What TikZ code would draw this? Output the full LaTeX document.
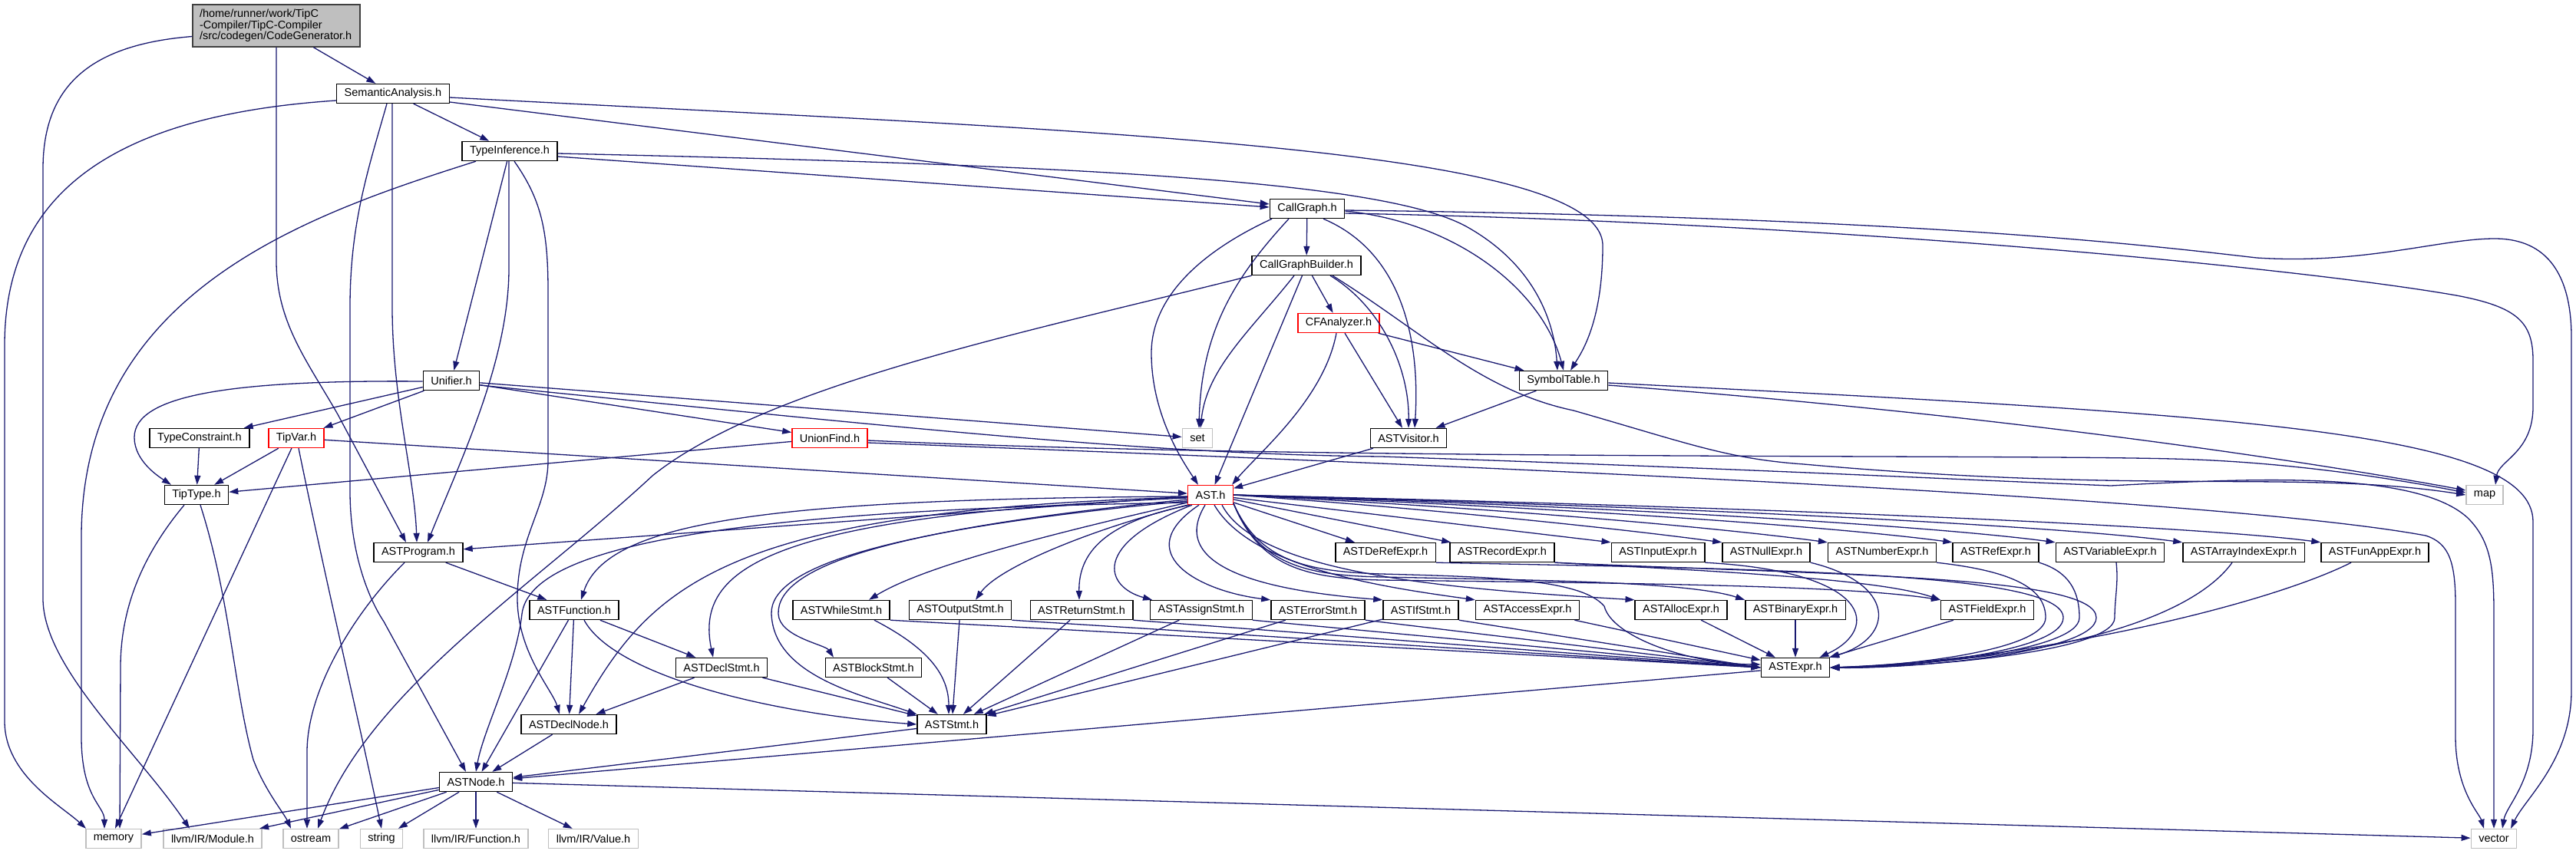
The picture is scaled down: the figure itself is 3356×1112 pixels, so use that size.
\documentclass[tikz,border=0pt]{standalone}
\usepackage{fontspec}
\setmainfont{Liberation Sans}
\usepackage{xcolor}
\usepackage{tikz}
\usetikzlibrary{arrows.meta}
\definecolor{navy}{HTML}{191970}
\definecolor{sysgray}{HTML}{BFBFBF}
\definecolor{rootline}{HTML}{404040}

\begin{document}
\begin{tikzpicture}[x=1pt,y=-1pt,>={Triangle[length=12pt,width=8pt]},
 hdr/.style={draw,line width=1.4pt,fill=white,minimum height=25pt,inner xsep=10pt,inner ysep=2pt,font=\fontsize{14.5}{17}\selectfont},
 hdrred/.style={hdr,draw=red},
 syshdr/.style={hdr,draw=sysgray},
 inc/.style={draw=navy,line width=1.3pt,->}]
 \useasboundingbox (0,0) rectangle (3356,1112);

 \node[hdr,fill=sysgray,draw=rootline,align=left,text width=200pt,inner xsep=9pt,minimum height=55pt,font=\fontsize{14.5}{14.6}\selectfont] (root) at (360,33.5) {/home/runner/work/TipC\\-Compiler/TipC-Compiler\\/src/codegen/CodeGenerator.h};
 \node[hdr] (sem) at (512,122) {SemanticAnalysis.h};
 \node[hdr] (tinf) at (664,197) {TypeInference.h};
 \node[hdr] (cg) at (1703,272) {CallGraph.h};
 \node[hdr] (cgb) at (1702,346) {CallGraphBuilder.h};
 \node[hdrred] (cfa) at (1744,421) {CFAnalyzer.h};
 \node[hdr] (unif) at (588,496) {Unifier.h};
 \node[hdr] (symt) at (2037,496) {SymbolTable.h};
 \node[hdr] (tcons) at (260,571) {TypeConstraint.h};
 \node[hdrred] (tvar) at (386,571) {TipVar.h};
 \node[hdrred] (ufind) at (1081,571) {UnionFind.h};
 \node[syshdr] (set) at (1560,571) {set};
 \node[hdr] (vis) at (1835,571) {ASTVisitor.h};
 \node[hdr] (ttype) at (256,645) {TipType.h};
 \node[hdrred] (ast) at (1577,645) {AST.h};
 \node[syshdr] (map) at (3237,645) {map};
 \node[hdr] (prog) at (545,720) {ASTProgram.h};
 \node[hdr] (deref) at (1805,720) {ASTDeRefExpr.h};
 \node[hdr] (rec) at (1957,720) {ASTRecordExpr.h};
 \node[hdr] (inp) at (2160,720) {ASTInputExpr.h};
 \node[hdr] (nul) at (2301,720) {ASTNullExpr.h};
 \node[hdr] (num) at (2452,720) {ASTNumberExpr.h};
 \node[hdr] (ref) at (2600,720) {ASTRefExpr.h};
 \node[hdr] (var) at (2749,720) {ASTVariableExpr.h};
 \node[hdr] (arr) at (2923,720) {ASTArrayIndexExpr.h};
 \node[hdr] (fun) at (3094,720) {ASTFunAppExpr.h};
 \node[hdr] (func) at (748,795) {ASTFunction.h};
 \node[hdr] (whl) at (1096,795) {ASTWhileStmt.h};
 \node[hdr] (out) at (1251,795) {ASTOutputStmt.h};
 \node[hdr] (ret) at (1409,795) {ASTReturnStmt.h};
 \node[hdr] (asg) at (1565,795) {ASTAssignStmt.h};
 \node[hdr] (err) at (1717,795) {ASTErrorStmt.h};
 \node[hdr] (ifs) at (1851,795) {ASTIfStmt.h};
 \node[hdr] (acc) at (1990,795) {ASTAccessExpr.h};
 \node[hdr] (alloc) at (2190,795) {ASTAllocExpr.h};
 \node[hdr] (bin) at (2339,795) {ASTBinaryExpr.h};
 \node[hdr] (field) at (2589,795) {ASTFieldExpr.h};
 \node[hdr] (dstmt) at (940,870) {ASTDeclStmt.h};
 \node[hdr] (block) at (1138,870) {ASTBlockStmt.h};
 \node[hdr] (expr) at (2339,870) {ASTExpr.h};
 \node[hdr] (dnode) at (741,944) {ASTDeclNode.h};
 \node[hdr] (stmt) at (1240,944) {ASTStmt.h};
 \node[hdr] (astnode) at (620,1019) {ASTNode.h};
 \node[syshdr] (memory) at (148,1093) {memory};
 \node[syshdr] (module) at (277,1093) {llvm/IR/Module.h};
 \node[syshdr] (ostream) at (405,1093) {ostream};
 \node[syshdr] (string) at (497,1093) {string};
 \node[syshdr] (lfunc) at (620,1093) {llvm/IR/Function.h};
 \node[syshdr] (lval) at (773,1093) {llvm/IR/Value.h};
 \node[syshdr] (vector) at (3249,1093) {vector};

 \draw[inc] (root) -- (sem);
 \draw[inc] ([yshift=-14]root.west) .. controls (120,58) and (56,110) .. (56,220) -- (56,780) .. controls (56,870) and (180,980) .. ([xshift=-30]module.north);
 \draw[inc] (root.south) -- (360,340) .. controls (360,420) and (400,470) .. (440,540) -- ([xshift=-16]prog.north);

 \draw[inc] ([yshift=-9]sem.west) .. controls (150,150) and (6,250) .. (6,450) -- (6,940) .. controls (6,1010) and (80,1050) .. ([xshift=-36]memory.north);
 \draw[inc] ([xshift=-8]sem.south) .. controls (480,220) and (456,290) .. (456,400) -- (456,640) .. controls (456,720) and (480,780) .. (500,810) -- ([xshift=-13]astnode.north);
 \draw[inc] ([xshift=-1]sem.south) -- (511,400) .. controls (511,520) and (540,620) .. ([xshift=-2]prog.north);
 \draw[inc] (sem) -- (tinf);
 \draw[inc] ([yshift=-5]sem.east) .. controls (1400,170) and (2088,190) .. (2088,320) .. controls (2088,420) and (2060,460) .. ([xshift=9]symt.north);
 \draw[inc] ([yshift=-11]sem.east) -- ([yshift=6]cg.west);

 \draw[inc] ([xshift=-44]tinf.south) .. controls (400,280) and (106,380) .. (106,700) -- (106,960) .. controls (106,1040) and (136,1050) .. ([xshift=-12]memory.north);
 \draw[inc] (tinf) -- (unif);
 \draw[inc] ([xshift=-1]tinf.south) -- (663,350) .. controls (663,470) and (600,600) .. ([xshift=12]prog.north);
 \draw[inc] ([xshift=6]tinf.south) .. controls (705,260) and (714,300) .. (714,380) -- (714,600) .. controls (714,660) and (674,700) .. (674,780) .. controls (674,850) and (720,900) .. ([xshift=-12]dnode.north);
 \draw[inc] ([yshift=-3]tinf.east) .. controls (1400,215) and (1800,235) .. (1910,295) .. controls (2000,345) and (2025,420) .. ([xshift=-8]symt.north);
 \draw[inc] ([yshift=-7]tinf.east) -- ([yshift=2]cg.west);

 \draw[inc] (cg) -- (cgb);
 \draw[inc] ([xshift=-24]cg.south) .. controls (1610,360) and (1565,430) .. ([xshift=2]set.north);
 \draw[inc] ([xshift=-46]cg.south) .. controls (1560,330) and (1500,390) .. (1500,460) .. controls (1500,540) and (1540,600) .. ([xshift=-16]ast.north);
 \draw[inc] ([xshift=21]cg.south) .. controls (1830,330) and (1850,450) .. ([xshift=8]vis.north);
 \draw[inc] ([yshift=-3]cg.east) .. controls (1900,290) and (2010,380) .. (symt.north);
 \draw[inc] ([yshift=-6]cg.east) .. controls (2400,290) and (3000,350) .. (3200,385) .. controls (3280,400) and (3300,420) .. (3300,470) -- (3300,530) .. controls (3300,590) and (3255,600) .. ([xshift=14]map.north);
 \draw[inc] ([yshift=-2]cg.east) .. controls (2500,283) and (2800,320) .. (2940,336) .. controls (3080,345) and (3180,311) .. (3250,311) .. controls (3320,311) and (3350,360) .. (3350,440) -- (3350,900) .. controls (3350,990) and (3290,1040) .. ([xshift=22]vector.north);

 \draw[inc] (cgb.south west) .. controls (1350,430) and (1000,500) .. (850,620) .. controls (700,760) and (480,900) .. ([xshift=9]ostream.north);
 \draw[inc] ([xshift=-16]cgb.south) .. controls (1630,430) and (1572,480) .. ([xshift=4]set.north);
 \draw[inc] (cgb) -- (ast); \draw[inc] (cgb) -- (cfa);
 \draw[inc] ([xshift=31]cgb.south) .. controls (1800,400) and (1836,480) .. (vis.north);
 \draw[inc] ([xshift=34]cgb.south) .. controls (1850,430) and (1930,510) .. (2050,535) .. controls (2200,578) and (2250,598) .. (2350,605) .. controls (2800,645) and (3000,612) .. (map.west);

 \draw[inc] ([xshift=-3]cfa.south) .. controls (1725,520) and (1640,590) .. ([xshift=-2]ast.north east);
 \draw[inc] (cfa) -- (vis); \draw[inc] (cfa) -- (symt);

 \draw[inc] (symt) -- (vis);
 \draw[inc] ([yshift=-6]symt.east) .. controls (2600,540) and (3000,600) .. ([yshift=6]map.west);
 \draw[inc] ([yshift=-3]symt.east) .. controls (2900,540) and (3300,560) .. (3300,680) -- (3300,950) .. controls (3300,1020) and (3265,1050) .. ([xshift=11]vector.north);
 \draw[inc] (vis) -- (ast);

 \draw[inc] ([yshift=-1]unif.west) .. controls (300,495) and (175,515) .. (175,570) .. controls (175,600) and (205,620) .. ([xshift=-33]ttype.north);
 \draw[inc] (unif) -- (tcons); \draw[inc] (unif) -- (tvar); \draw[inc] (unif) -- (set); \draw[inc] (unif) -- (ufind);
 \draw[inc] ([yshift=-6]unif.east) .. controls (1200,560) and (1500,592) .. (1800,595) .. controls (2300,612) and (2550,625) .. (2750,633) .. controls (2950,622) and (3150,615) .. (3215,675) .. controls (3245,705) and (3249,740) .. (3249,800) -- (vector.north);

 \draw[inc] (tcons) -- (ttype);
 \draw[inc] (tvar) -- (ttype); \draw[inc] (tvar) -- ([xshift=2]memory.north);
 \draw[inc] ([xshift=3]tvar.south) .. controls (425,760) and (470,950) .. (string.north);
 \draw[inc] (tvar) -- (ast);

 \draw[inc] (ufind) -- (ttype);
 \draw[inc] ([yshift=-3]ufind.east) .. controls (1700,600) and (2600,592) .. (2830,598) .. controls (3000,602) and (3150,630) .. ([yshift=3]map.west);
 \draw[inc] ([yshift=-6]ufind.east) .. controls (2000,610) and (2900,650) .. (3160,698) .. controls (3192,708) and (3199,735) .. (3199,790) -- (3199,960) .. controls (3199,1030) and (3230,1060) .. ([xshift=-13]vector.north);

 \draw[inc] ([xshift=-16]ttype.south) .. controls (180,730) and (157,800) .. (157,870) -- ([xshift=8]memory.north);
 \draw[inc] ([xshift=5]ttype.south) .. controls (300,780) and (305,900) .. (330,990) .. controls (345,1030) and (370,1060) .. ([xshift=-26]ostream.north);

 \draw[inc] ([xshift=-18]prog.south) .. controls (460,800) and (400,900) .. (400,980) -- ([xshift=-5]ostream.north);
 \draw[inc] (prog) -- (func);

 \draw[inc] (ast) -- (prog);
 \draw[inc] ([yshift=-2]ast.west) .. controls (1000,650) and (790,680) .. ([xshift=9]func.north);
 \draw[inc] ([yshift=-3]ast.west) .. controls (950,665) and (850,760) .. ([xshift=13]dnode.north);
 \draw[inc] ([yshift=-4]ast.west) .. controls (1000,672) and (905,740) .. ([xshift=-11]dstmt.north);
 \draw[inc] ([yshift=-6]ast.west) .. controls (1150,690) and (1012,740) .. (1014,800) .. controls (1015,830) and (1075,840) .. ([xshift=-52]block.north);
 \draw[inc] ([yshift=-8]ast.west) .. controls (1150,690) and (1003,740) .. (1005,800) .. controls (1008,880) and (1120,905) .. (stmt.north west);
 \draw[inc] ([yshift=-10]ast.west) .. controls (900,665) and (690,720) .. (680,800) .. controls (672,870) and (630,950) .. (astnode.north);
 \draw[inc] ([yshift=-10]ast.west) .. controls (1350,700) and (1200,740) .. ([xshift=36]whl.north);
 \draw[inc] (ast.south west) .. controls (1420,690) and (1300,740) .. ([xshift=20]out.north);
 \draw[inc] ([xshift=3]ast.south west) .. controls (1440,680) and (1405,720) .. ([xshift=-3]ret.north);
 \draw[inc] ([xshift=6]ast.south west) .. controls (1420,710) and (1440,765) .. ([xshift=3]asg.north west);
 \draw[inc] ([xshift=-15]ast.south) .. controls (1470,720) and (1560,770) .. (err.north west);
 \draw[inc] ([xshift=-7]ast.south) .. controls (1520,740) and (1650,770) .. (ifs.north west);
 \draw[inc] ([xshift=5]ast.south) .. controls (1630,740) and (1800,765) .. (acc.north west);
 \draw[inc] ([xshift=15]ast.south) .. controls (1640,750) and (1900,768) .. (alloc.north west);
 \draw[inc] ([yshift=2]ast.south east) .. controls (1640,730) and (1700,745) .. (1800,748) .. controls (1950,752) and (2060,755) .. (2090,790) .. controls (2100,830) and (2200,865) .. ([yshift=4]expr.west);
 \draw[inc] ([yshift=2]ast.south east) .. controls (1640,735) and (1700,750) .. (1800,752) .. controls (2000,756) and (2200,758) .. (bin.north west);
 \draw[inc] ([yshift=2]ast.south east) .. controls (1640,738) and (1700,754) .. (1800,756) .. controls (2100,760) and (2400,762) .. (field.north west);
 \draw[inc] (ast) -- (deref); \draw[inc] (ast) -- (rec); \draw[inc] (ast) -- (inp.north west);
 \draw[inc] (ast.east) .. controls (1850,662) and ([xshift=-150,yshift=20]nul.north west) .. (nul.north west);
 \draw[inc] (ast.east) .. controls (1950,662) and ([xshift=-150,yshift=20]num.north west) .. (num.north west);
 \draw[inc] (ast.east) .. controls (2050,662) and ([xshift=-150,yshift=20]ref.north west) .. (ref.north west);
 \draw[inc] (ast.east) .. controls (2150,662) and ([xshift=-150,yshift=20]var.north west) .. (var.north west);
 \draw[inc] (ast.east) .. controls (2250,662) and ([xshift=-150,yshift=20]arr.north west) .. (arr.north west);
 \draw[inc] (ast.east) .. controls (2350,662) and ([xshift=-150,yshift=20]fun.north west) .. (fun.north west);

 \draw[inc] (deref.south east) .. controls (2300,742) and (2688,745) .. (2688,805) .. controls (2688,850) and (2480,870) .. (expr.east);
 \draw[inc] (rec.south east) .. controls (2400,750) and (2731,750) .. (2731,805) .. controls (2731,852) and (2480,872) .. (expr.east);
 \draw[inc] (rec.south east) .. controls (2250,745) and (2450,755) .. (field.north west);
 \draw[inc] (inp.south east) .. controls (2440,745) and (2450,820) .. ([xshift=-14]expr.north east);
 \draw[inc] (nul.south east) .. controls (2470,760) and (2470,830) .. (expr.north east);
 \draw[inc] (num.south east) .. controls (2630,745) and (2665,770) .. (2665,805) .. controls (2665,848) and (2480,868) .. (expr.east);
 \draw[inc] (ref.south east) .. controls (2695,745) and (2709,770) .. (2709,805) .. controls (2709,850) and (2480,870) .. (expr.east);
 \draw[inc] ([xshift=8]var.south) .. controls (2760,760) and (2755,780) .. (2755,805) .. controls (2755,852) and (2480,871) .. (expr.east);
 \draw[inc] ([xshift=-15]arr.south) .. controls (2860,800) and (2700,860) .. (expr.east);
 \draw[inc] ([xshift=-31]fun.south) .. controls (2950,790) and (2650,860) .. (expr.east);
 \draw[inc] (acc) -- (expr); \draw[inc] (alloc) -- (expr); \draw[inc] (bin) -- (expr); \draw[inc] (field) -- (expr);

 \draw[inc] (whl.south east) -- (expr.west); \draw[inc] (out.south east) -- (expr.west); \draw[inc] (ret.south east) -- (expr.west);
 \draw[inc] (asg.south east) -- (expr.west); \draw[inc] (err.south east) -- (expr.west); \draw[inc] (ifs.south east) -- (expr.west);
 \draw[inc] ([xshift=43]whl.south) .. controls (1210,845) and (1236,880) .. ([xshift=-4]stmt.north);
 \draw[inc] (out) -- (stmt); \draw[inc] (ret) -- (stmt); \draw[inc] (asg) -- (stmt); \draw[inc] (err) -- (stmt); \draw[inc] (ifs) -- (stmt);
 \draw[inc] (block) -- (stmt); \draw[inc] (dstmt) -- (stmt); \draw[inc] (dstmt) -- (dnode);

 \draw[inc] (func) -- (dnode); \draw[inc] (func) -- (dstmt); \draw[inc] (func) -- (astnode);
 \draw[inc] ([xshift=13]func.south) .. controls (800,880) and (1000,930) .. (stmt.west);
 \draw[inc] (dnode) -- (astnode); \draw[inc] (stmt) -- (astnode); \draw[inc] (expr) -- (astnode);

 \draw[inc] (astnode) -- (memory); \draw[inc] (astnode) -- (module); \draw[inc] (astnode) -- (ostream);
 \draw[inc] (astnode) -- (string); \draw[inc] (astnode) -- (lfunc); \draw[inc] (astnode) -- (lval);
 \draw[inc] (astnode) -- (vector);
\end{tikzpicture}
\end{document}
